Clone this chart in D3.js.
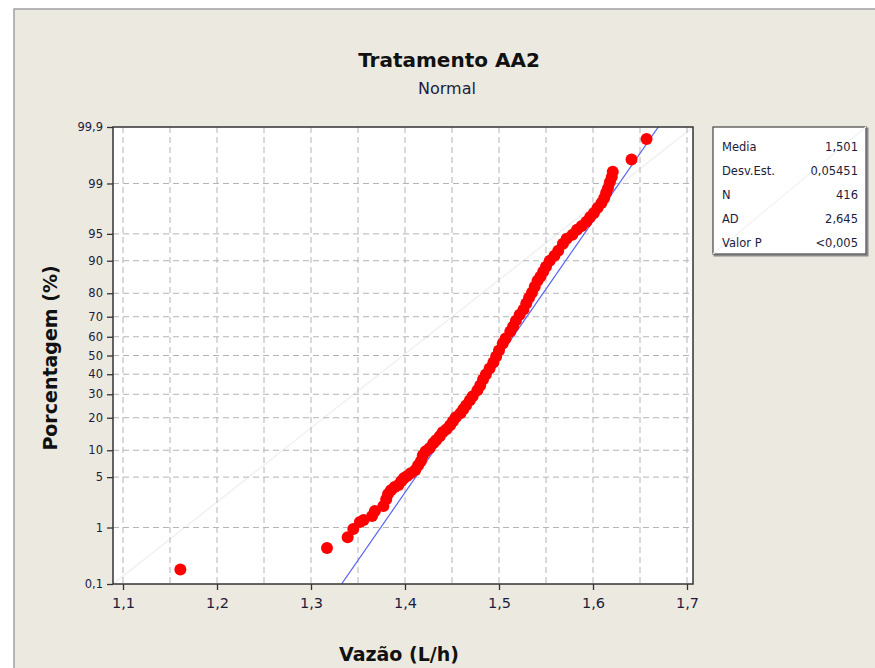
<!DOCTYPE html>
<html><head><meta charset="utf-8">
<script src="https://cdn.jsdelivr.net/npm/d3@7"></script>
<style>
html,body{margin:0;padding:0;background:#fff;}
svg{display:block;}
</style></head>
<body>
<svg id="chart" width="875" height="668"></svg>
<script>
// ---- data ----
const vazao = [1.161,1.317,1.339,1.345,1.352,1.356,1.365,1.368,1.377,1.380,1.382,1.385,1.389,1.393,1.396,1.399,1.402,1.406,1.411,1.414,1.417,1.419,1.422,1.426,1.430,1.433,1.437,1.440,1.444,1.448,1.451,1.454,1.459,1.462,1.465,1.469,1.472,1.477,1.480,1.483,1.486,1.490,1.494,1.497,1.500,1.504,1.507,1.512,1.515,1.518,1.522,1.526,1.529,1.532,1.535,1.538,1.541,1.544,1.547,1.550,1.554,1.559,1.563,1.568,1.572,1.578,1.583,1.588,1.593,1.597,1.601,1.605,1.609,1.612,1.614,1.616,1.618,1.620,1.621,1.641,1.657];
const percent = [0.19,0.46,0.70,0.95,1.22,1.30,1.50,1.77,2.09,2.60,3.05,3.43,3.76,3.99,4.46,4.87,5.14,5.58,6.06,6.90,7.66,8.88,9.75,10.50,11.75,12.60,13.73,14.97,15.89,17.26,18.66,20.16,21.70,23.32,25.0,27.2,29.04,31.86,34.28,37.31,39.91,43.06,46.26,49.46,52.69,56.43,59.05,62.69,65.2,68.14,70.96,73.25,75.87,78.30,80.20,82.38,84.41,85.65,87.13,88.51,89.99,91.12,92.16,93.45,94.27,94.86,95.54,96.01,96.47,96.95,97.31,97.71,98.04,98.34,98.61,98.82,99.05,99.21,99.35,99.60,99.83];
const mean = 1.501;
const stdev = 0.05451;
const xTicks = [1.1,1.2,1.3,1.4,1.5,1.6,1.7];
const xGrid = [1.1,1.15,1.2,1.25,1.3,1.35,1.4,1.45,1.5,1.55,1.6,1.65,1.7];
const yTicks = [0.1,1,5,10,20,30,40,50,60,70,80,90,95,99,99.9];
const statLabels = ["Media","Desv.Est.","N","AD","Valor P"];
const statValues = ["1,501","0,05451","416","2,645","<0,005"];
const titleText = "Tratamento AA2";
const subtitleText = "Normal";
const xTitle = "Vazão (L/h)";
const yTitle = "Porcentagem (%)";

// inverse normal CDF (Acklam)
function probit(p){
  const a=[-3.969683028665376e+01,2.209460984245205e+02,-2.759285104469687e+02,1.383577518672690e+02,-3.066479806614716e+01,2.506628277459239e+00];
  const b=[-5.447609879822406e+01,1.615858368580409e+02,-1.556989798598866e+02,6.680131188771972e+01,-1.328068155288572e+01];
  const c=[-7.784894002430293e-03,-3.223964580411365e-01,-2.400758277161838e+00,-2.549732539343734e+00,4.374664141464968e+00,2.938163982698783e+00];
  const d=[7.784695709041462e-03,3.224671290700398e-01,2.445134137142996e+00,3.754408661907416e+00];
  const pl=0.02425, ph=1-pl; let q,r;
  if(p<pl){q=Math.sqrt(-2*Math.log(p));return (((((c[0]*q+c[1])*q+c[2])*q+c[3])*q+c[4])*q+c[5])/((((d[0]*q+d[1])*q+d[2])*q+d[3])*q+1);}
  if(p<=ph){q=p-0.5;r=q*q;return (((((a[0]*r+a[1])*r+a[2])*r+a[3])*r+a[4])*r+a[5])*q/(((((b[0]*r+b[1])*r+b[2])*r+b[3])*r+b[4])*r+1);}
  q=Math.sqrt(-2*Math.log(1-p));return -(((((c[0]*q+c[1])*q+c[2])*q+c[3])*q+c[4])*q+c[5])/((((d[0]*q+d[1])*q+d[2])*q+d[3])*q+1);
}

const svg = d3.select("#chart");
const W=875,H=668;
// frame
svg.append("rect").attr("x",14).attr("y",9).attr("width",W).attr("height",H)
  .attr("fill","#ECE9E0").attr("stroke","#a0a0a0").attr("stroke-width",1.5);

const plot = {left:113, right:693, top:127, bottom:584};
const x = d3.scaleLinear().domain([1.1,1.7]).range([123,687]);
const zScale = d3.scaleLinear().domain([probit(0.001),probit(0.999)]).range([plot.bottom,plot.top]);
const y = p => zScale(probit(p/100));

const font = "'DejaVu Sans', sans-serif";
const txtCol = "#1c1c3c";

// titles
svg.append("text").attr("x",449).attr("y",67).attr("text-anchor","middle")
  .attr("font-family",font).attr("font-weight","bold").attr("font-size",20).attr("fill","#111")
  .text(titleText);
svg.append("text").attr("x",447).attr("y",94).attr("text-anchor","middle")
  .attr("font-family",font).attr("font-size",16).attr("fill","#1c1c3c")
  .text(subtitleText);

// plot background
svg.append("rect").attr("x",plot.left).attr("y",plot.top)
  .attr("width",plot.right-plot.left).attr("height",plot.bottom-plot.top)
  .attr("fill","#fff");

svg.append("defs").append("clipPath").attr("id","clip").append("rect")
  .attr("x",plot.left).attr("y",plot.top).attr("width",plot.right-plot.left).attr("height",plot.bottom-plot.top);

const g = svg.append("g").attr("clip-path","url(#clip)");
// faint diagonal
g.append("line").attr("x1",plot.left).attr("y1",plot.bottom).attr("x2",plot.right).attr("y2",plot.top)
  .attr("stroke","#f1f1f1").attr("stroke-width",1.5);

// grid
g.selectAll(".vg").data(xGrid).enter().append("line")
  .attr("x1",d=>x(d)).attr("x2",d=>x(d)).attr("y1",plot.top).attr("y2",plot.bottom)
  .attr("stroke","#b4b4b4").attr("stroke-dasharray","6,4").attr("stroke-width",1);
g.selectAll(".hg").data(yTicks.slice(1,-1)).enter().append("line")
  .attr("x1",plot.left).attr("x2",plot.right).attr("y1",d=>y(d)).attr("y2",d=>y(d))
  .attr("stroke","#b4b4b4").attr("stroke-dasharray","6,4").attr("stroke-width",1);

// fitted line
const pLine = [0.05,99.95];
g.append("line")
  .attr("x1",x(mean+stdev*probit(pLine[0]/100))).attr("y1",y(pLine[0]))
  .attr("x2",x(mean+stdev*probit(pLine[1]/100))).attr("y2",y(pLine[1]))
  .attr("stroke","#5a64f2").attr("stroke-width",1.2);

// points
g.selectAll(".pt").data(vazao.map((v,i)=>({v,p:percent[i]}))).enter().append("circle")
  .attr("cx",d=>x(d.v)).attr("cy",d=>y(d.p)).attr("r",6).attr("fill","#ff0000");

// plot border
svg.append("rect").attr("x",plot.left).attr("y",plot.top)
  .attr("width",plot.right-plot.left).attr("height",plot.bottom-plot.top)
  .attr("fill","none").attr("stroke","#333").attr("stroke-width",1.5);

// axes
const xAxis = d3.axisBottom(x).tickValues(xTicks).tickSize(6).tickPadding(8)
  .tickFormat(d=>d3.format(".1f")(d).replace(".",","));
const xa = svg.append("g").attr("transform",`translate(0,${plot.bottom})`).call(xAxis);
xa.select(".domain").remove();
xa.selectAll("line").attr("stroke","#333").attr("stroke-width",1.3);
xa.selectAll("text").attr("font-family",font).attr("font-size",14.5).attr("fill",txtCol);

const yAxis = d3.axisLeft(zScale).tickValues(yTicks.map(p=>probit(p/100))).tickSize(6).tickPadding(4)
  .tickFormat((d,i)=>String(yTicks[i]).replace(".",","));
const ya = svg.append("g").attr("transform",`translate(${plot.left},0)`).call(yAxis);
ya.select(".domain").remove();
ya.selectAll("line").attr("stroke","#333").attr("stroke-width",1.3);
ya.selectAll("text").attr("font-family",font).attr("font-size",11.5).attr("fill",txtCol);

// axis titles
svg.append("text").attr("x",399).attr("y",661).attr("text-anchor","middle")
  .attr("font-family",font).attr("font-weight","bold").attr("font-size",19).attr("fill","#111")
  .text(xTitle);
svg.append("text").attr("transform","translate(57,358) rotate(-90)").attr("text-anchor","middle")
  .attr("font-family",font).attr("font-weight","bold").attr("font-size",19).attr("fill","#111")
  .text(yTitle);

// stats box
const box = {x:713, y:127, w:153, h:127};
svg.append("rect").attr("x",box.x+1.5).attr("y",box.y+1.5).attr("width",box.w).attr("height",box.h)
  .attr("fill","none").attr("stroke","#8a8a8a").attr("stroke-width",2);
svg.append("rect").attr("x",box.x).attr("y",box.y).attr("width",box.w).attr("height",box.h)
  .attr("fill","#fff").attr("stroke","#444").attr("stroke-width",1.2);
svg.append("line").attr("x1",box.x).attr("y1",box.y+box.h).attr("x2",box.x+box.w).attr("y2",box.y)
  .attr("stroke","#f2f2f2").attr("stroke-width",1.2);
const rowY = d3.scalePoint().domain(statLabels).range([box.y+20,box.y+116]);
svg.selectAll(".sl").data(statLabels).enter().append("text")
  .attr("x",box.x+9).attr("y",d=>rowY(d)+4)
  .attr("font-family",font).attr("font-size",11.5).attr("fill",txtCol).text(d=>d);
svg.selectAll(".sv").data(statValues).enter().append("text")
  .attr("x",box.x+box.w-8).attr("y",(d,i)=>rowY(statLabels[i])+4).attr("text-anchor","end")
  .attr("font-family",font).attr("font-size",11.5).attr("fill",txtCol).text(d=>d);
</script>
</body></html>
